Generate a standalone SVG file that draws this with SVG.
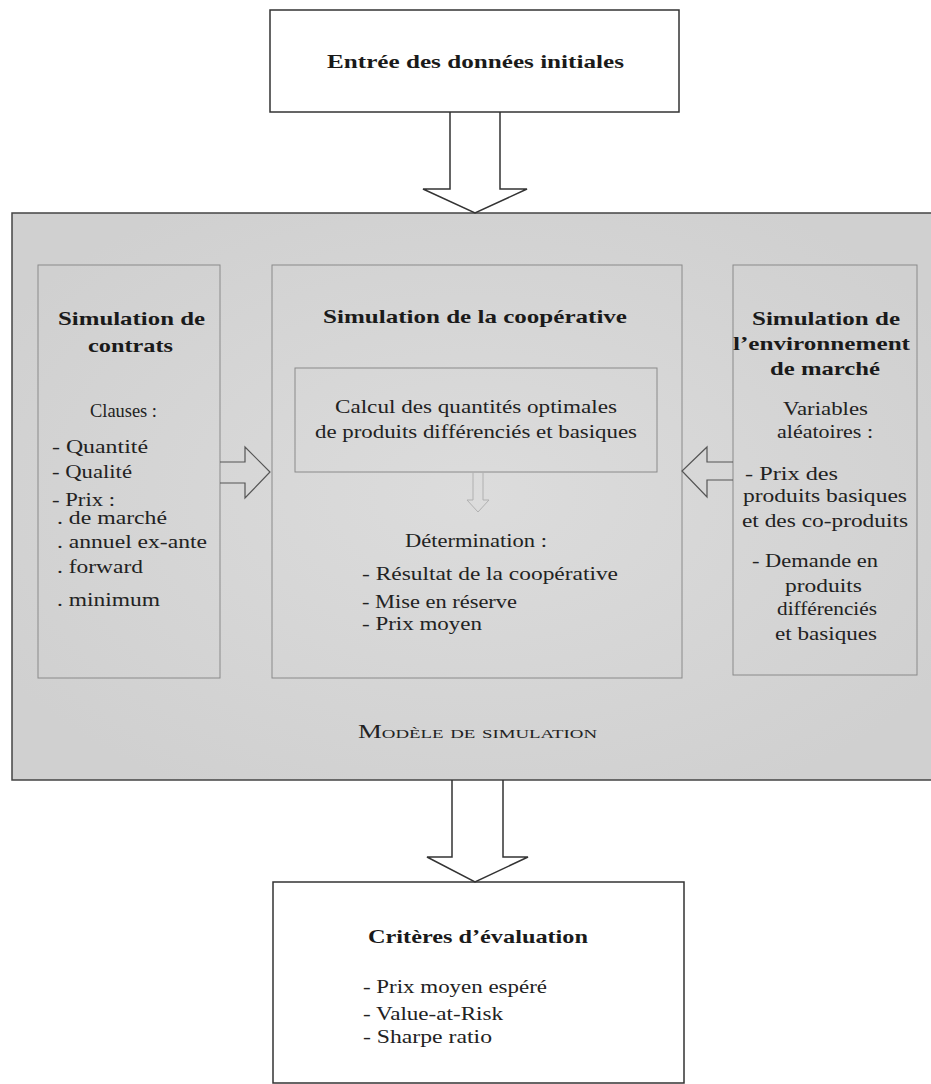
<svg xmlns="http://www.w3.org/2000/svg" width="931" height="1084" viewBox="0 0 931 1084">
<style>
.t{font-family:"Liberation Serif","DejaVu Serif",serif;font-size:18.5px;fill:#222}
.b{font-family:"Liberation Serif","DejaVu Serif",serif;font-size:19.5px;font-weight:bold;fill:#1a1a1a}
.sc{font-variant:small-caps}
.box{fill:#fff;stroke:#333;stroke-width:1.5}
.inner{fill:none;stroke:#8a8a8a;stroke-width:1}
.arr{fill:none;stroke:#333;stroke-width:1.5;stroke-linejoin:miter}
.arrg{fill:none;stroke:#555;stroke-width:1.2}
</style>
<defs>
<radialGradient id="bg" cx="0.5" cy="0.5" r="0.6">
<stop offset="0" stop-color="#dcdcdc"/>
<stop offset="1" stop-color="#d0d0d0"/>
</radialGradient>
</defs>
<rect x="0" y="0" width="931" height="1084" fill="#fff"/>

<g id="model">
<rect x="12" y="213" width="925" height="567" fill="url(#bg)" stroke="#444" stroke-width="1.5"/>
<text class="t sc" x="358" y="738" textLength="239" lengthAdjust="spacingAndGlyphs">Modèle de simulation</text>
</g>

<g id="input">
<rect class="box" x="270" y="10" width="409" height="102"/>
<text class="b" x="327" y="68" textLength="297" lengthAdjust="spacingAndGlyphs">Entrée des données initiales</text>
</g>

<g id="contracts">
<rect class="inner" x="38" y="265" width="182" height="413"/>
<text class="b" x="58" y="325" textLength="147" lengthAdjust="spacingAndGlyphs">Simulation de</text>
<text class="b" x="88" y="352" textLength="85" lengthAdjust="spacingAndGlyphs">contrats</text>
<text class="t" x="90" y="417" textLength="67" lengthAdjust="spacingAndGlyphs">Clauses :</text>
<text class="t" x="52" y="453" textLength="96" lengthAdjust="spacingAndGlyphs">- Quantité</text>
<text class="t" x="52" y="478" textLength="80" lengthAdjust="spacingAndGlyphs">- Qualité</text>
<text class="t" x="52" y="506" textLength="63" lengthAdjust="spacingAndGlyphs">- Prix :</text>
<text class="t" x="57" y="524" textLength="110" lengthAdjust="spacingAndGlyphs">. de marché</text>
<text class="t" x="57" y="548" textLength="150" lengthAdjust="spacingAndGlyphs">. annuel ex-ante</text>
<text class="t" x="57" y="573" textLength="86" lengthAdjust="spacingAndGlyphs">. forward</text>
<text class="t" x="57" y="606" textLength="103" lengthAdjust="spacingAndGlyphs">. minimum</text>
</g>

<g id="cooperative">
<rect class="inner" x="272" y="265" width="410" height="413"/>
<text class="b" x="323" y="323" textLength="304" lengthAdjust="spacingAndGlyphs">Simulation de la coopérative</text>
<text class="t" x="405" y="547" textLength="142" lengthAdjust="spacingAndGlyphs">Détermination :</text>
<text class="t" x="362" y="580" textLength="256" lengthAdjust="spacingAndGlyphs">- Résultat de la coopérative</text>
<text class="t" x="362" y="608" textLength="155" lengthAdjust="spacingAndGlyphs">- Mise en réserve</text>
<text class="t" x="362" y="630" textLength="120" lengthAdjust="spacingAndGlyphs">- Prix moyen</text>
</g>

<g id="calcul">
<rect class="inner" x="295" y="368" width="362" height="104" stroke="#a0a0a0"/>
<text class="t" x="335" y="413" textLength="282" lengthAdjust="spacingAndGlyphs">Calcul des quantités optimales</text>
<text class="t" x="315" y="438" textLength="322" lengthAdjust="spacingAndGlyphs">de produits différenciés et basiques</text>
</g>

<g id="market">
<rect class="inner" x="733" y="265" width="184" height="410"/>
<text class="b" x="752" y="325" textLength="148" lengthAdjust="spacingAndGlyphs">Simulation de</text>
<text class="b" x="733" y="350" textLength="177" lengthAdjust="spacingAndGlyphs">l’environnement</text>
<text class="b" x="770" y="375" textLength="110" lengthAdjust="spacingAndGlyphs">de marché</text>
<text class="t" x="783" y="415" textLength="85" lengthAdjust="spacingAndGlyphs">Variables</text>
<text class="t" x="777" y="438" textLength="96" lengthAdjust="spacingAndGlyphs">aléatoires :</text>
<text class="t" x="745" y="480" textLength="93" lengthAdjust="spacingAndGlyphs">- Prix des</text>
<text class="t" x="743" y="502" textLength="164" lengthAdjust="spacingAndGlyphs">produits basiques</text>
<text class="t" x="742" y="527" textLength="166" lengthAdjust="spacingAndGlyphs">et des co-produits</text>
<text class="t" x="752" y="567" textLength="126" lengthAdjust="spacingAndGlyphs">- Demande en</text>
<text class="t" x="785" y="592" textLength="77" lengthAdjust="spacingAndGlyphs">produits</text>
<text class="t" x="777" y="615" textLength="100" lengthAdjust="spacingAndGlyphs">différenciés</text>
<text class="t" x="775" y="640" textLength="102" lengthAdjust="spacingAndGlyphs">et basiques</text>
</g>

<g id="criteria">
<rect class="box" x="273" y="882" width="411" height="201"/>
<text class="b" x="368" y="943" textLength="220" lengthAdjust="spacingAndGlyphs">Critères d’évaluation</text>
<text class="t" x="363" y="993" textLength="184" lengthAdjust="spacingAndGlyphs">- Prix moyen espéré</text>
<text class="t" x="363" y="1020" textLength="140" lengthAdjust="spacingAndGlyphs">- Value-at-Risk</text>
<text class="t" x="363" y="1043" textLength="129" lengthAdjust="spacingAndGlyphs">- Sharpe ratio</text>
</g>

<g id="connectors">
<path class="arr" d="M450,112 V189 H423 L475,213 L527,189 H500 V112"/>
<path class="arrg" d="M220,462 H245 V447 L270,472 L245,498 V483 H220"/>
<path class="arrg" d="M733,462 H707 V447 L682,471 L707,497 V480 H733"/>
<path d="M473,472 V500 H467 L478,512 L489,500 H483 V472" fill="none" stroke="#b0b0b0" stroke-width="1"/>
<path class="arr" d="M452,780 V857 H427 L475,882 L528,857 H503 V780"/>
</g>
</svg>
